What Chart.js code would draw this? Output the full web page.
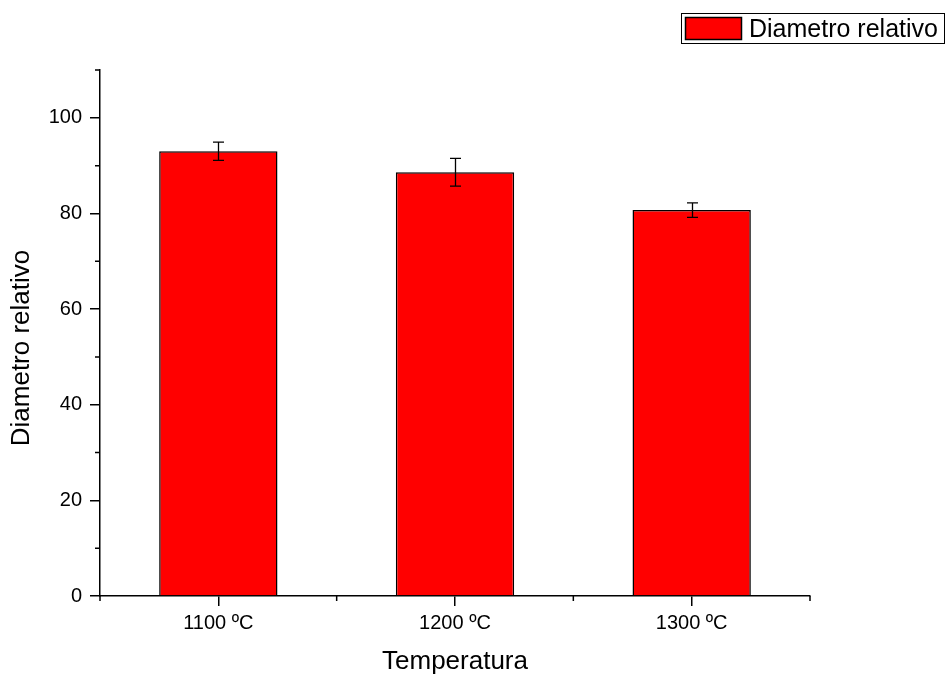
<!DOCTYPE html>
<html>
<head>
<meta charset="utf-8">
<script src="https://cdn.jsdelivr.net/npm/chart.js@4/dist/chart.umd.min.js"></script>
<style>
html,body{margin:0;padding:0;background:#fff;}
#wrap{width:945px;height:675px;position:relative;}
</style>
</head>
<body>
<div id="wrap"><canvas id="c" width="945" height="675"></canvas></div>
<script>
const categories = ['1100 ºC', '1200 ºC', '1300 ºC'];
const diameterValues = [93.0, 88.6, 80.7];
const diameterErrors = [1.9, 2.9, 1.5];
const seriesLabel = 'Diametro relativo';
const xTitle = 'Temperatura';
const yTitle = 'Diametro relativo';
const yMajorTicks = [0, 20, 40, 60, 80, 100];
const yMinorTicks = [10, 30, 50, 70, 90, 110];

const FONT = 'Liberation Sans, Arial, sans-serif';

const errorBarPlugin = {
  id: 'errorBars',
  afterDatasetsDraw(chart) {
    const ctx = chart.ctx;
    const meta = chart.getDatasetMeta(0);
    const y = chart.scales.y;
    ctx.save();
    ctx.strokeStyle = '#000';
    ctx.lineWidth = 1.3;
    meta.data.forEach((bar, i) => {
      const v = diameterValues[i], e = diameterErrors[i];
      const x = Math.round(bar.x) + 0.5;
      const yt = y.getPixelForValue(v + e);
      const yb = y.getPixelForValue(v - e);
      ctx.beginPath();
      ctx.moveTo(x, yt); ctx.lineTo(x, yb);
      ctx.moveTo(x - 5.5, yt); ctx.lineTo(x + 5.5, yt);
      ctx.moveTo(x - 5.5, yb); ctx.lineTo(x + 5.5, yb);
      ctx.stroke();
    });
    ctx.restore();
  }
};

const minorTickPlugin = {
  id: 'minorTicks',
  afterDraw(chart) {
    const ctx = chart.ctx;
    const y = chart.scales.y, x = chart.scales.x;
    const area = chart.chartArea;
    ctx.save();
    ctx.strokeStyle = '#000';
    ctx.lineWidth = 1.5;
    ctx.beginPath();
    yMinorTicks.forEach(v => {
      const py = y.getPixelForValue(v);
      ctx.moveTo(area.left - 5, py); ctx.lineTo(area.left, py);
    });
    for (let i = 0; i <= categories.length; i++) {
      const px = x.getPixelForValue(i - 0.5);
      ctx.moveTo(px, area.bottom); ctx.lineTo(px, area.bottom + 5);
    }
    ctx.stroke();
    // y axis title
    ctx.fillStyle = '#000';
    ctx.font = '26px ' + FONT;
    ctx.textAlign = 'center';
    ctx.textBaseline = 'middle';
    ctx.translate(22, 348);
    ctx.rotate(-Math.PI / 2);
    ctx.fillText(yTitle, 0, 0);
    ctx.restore();
  }
};

const legendPlugin = {
  id: 'boxLegend',
  afterDraw(chart) {
    const ctx = chart.ctx;
    ctx.save();
    ctx.fillStyle = '#fff';
    ctx.fillRect(681, 13, 263, 31);
    ctx.strokeStyle = '#000';
    ctx.lineWidth = 1;
    ctx.strokeRect(681.5, 13.5, 263, 30);
    ctx.fillStyle = '#ff0000';
    ctx.fillRect(685.5, 17.5, 56, 22);
    ctx.lineWidth = 1.5;
    ctx.strokeRect(685.5, 17.5, 56, 22);
    ctx.fillStyle = '#000';
    ctx.font = '25px ' + FONT;
    ctx.textBaseline = 'middle';
    ctx.textAlign = 'left';
    ctx.fillText(seriesLabel, 749, 30);
    ctx.restore();
  }
};

new Chart(document.getElementById('c'), {
  type: 'bar',
  data: {
    labels: categories,
    datasets: [{
      label: seriesLabel,
      data: diameterValues,
      backgroundColor: '#ff0000',
      borderColor: '#000',
      borderWidth: 1.5,
      borderSkipped: 'bottom',
      barPercentage: 0.5,
      categoryPercentage: 1.0
    }]
  },
  options: {
    responsive: false,
    animation: false,
    devicePixelRatio: 1,
    layout: { padding: { top: 70, right: 135, left: 0, bottom: 0 } },
    plugins: {
      legend: { display: false },
      tooltip: { enabled: false }
    },
    scales: {
      x: {
        offset: true,
        grid: { display: true, drawOnChartArea: false, drawTicks: true, tickLength: 10, color: '#000', lineWidth: 1.5, offset: false },
        border: { display: true, color: '#000', width: 1.5 },
        ticks: { color: '#000', font: { family: FONT, size: 20 }, padding: 5, maxRotation: 0 },
        title: { display: true, text: xTitle, color: '#000', font: { family: FONT, size: 26, lineHeight: 1.0 }, padding: { top: 0, bottom: 0 } },
        afterFit(scale) { scale.height = 79; }
      },
      y: {
        min: 0, max: 110,
        grid: { display: true, drawOnChartArea: false, drawTicks: true, tickLength: 10, color: '#000', lineWidth: 1.5 },
        border: { display: true, color: '#000', width: 1.5 },
        ticks: { stepSize: 20, color: '#000', font: { family: FONT, size: 20 }, padding: 8 },
        afterBuildTicks(scale) { scale.ticks = yMajorTicks.map(v => ({ value: v })); },
        title: { display: false, text: yTitle },
        afterFit(scale) { scale.width = 100; }
      }
    }
  },
  plugins: [errorBarPlugin, minorTickPlugin, legendPlugin]
});
</script>
</body>
</html>
